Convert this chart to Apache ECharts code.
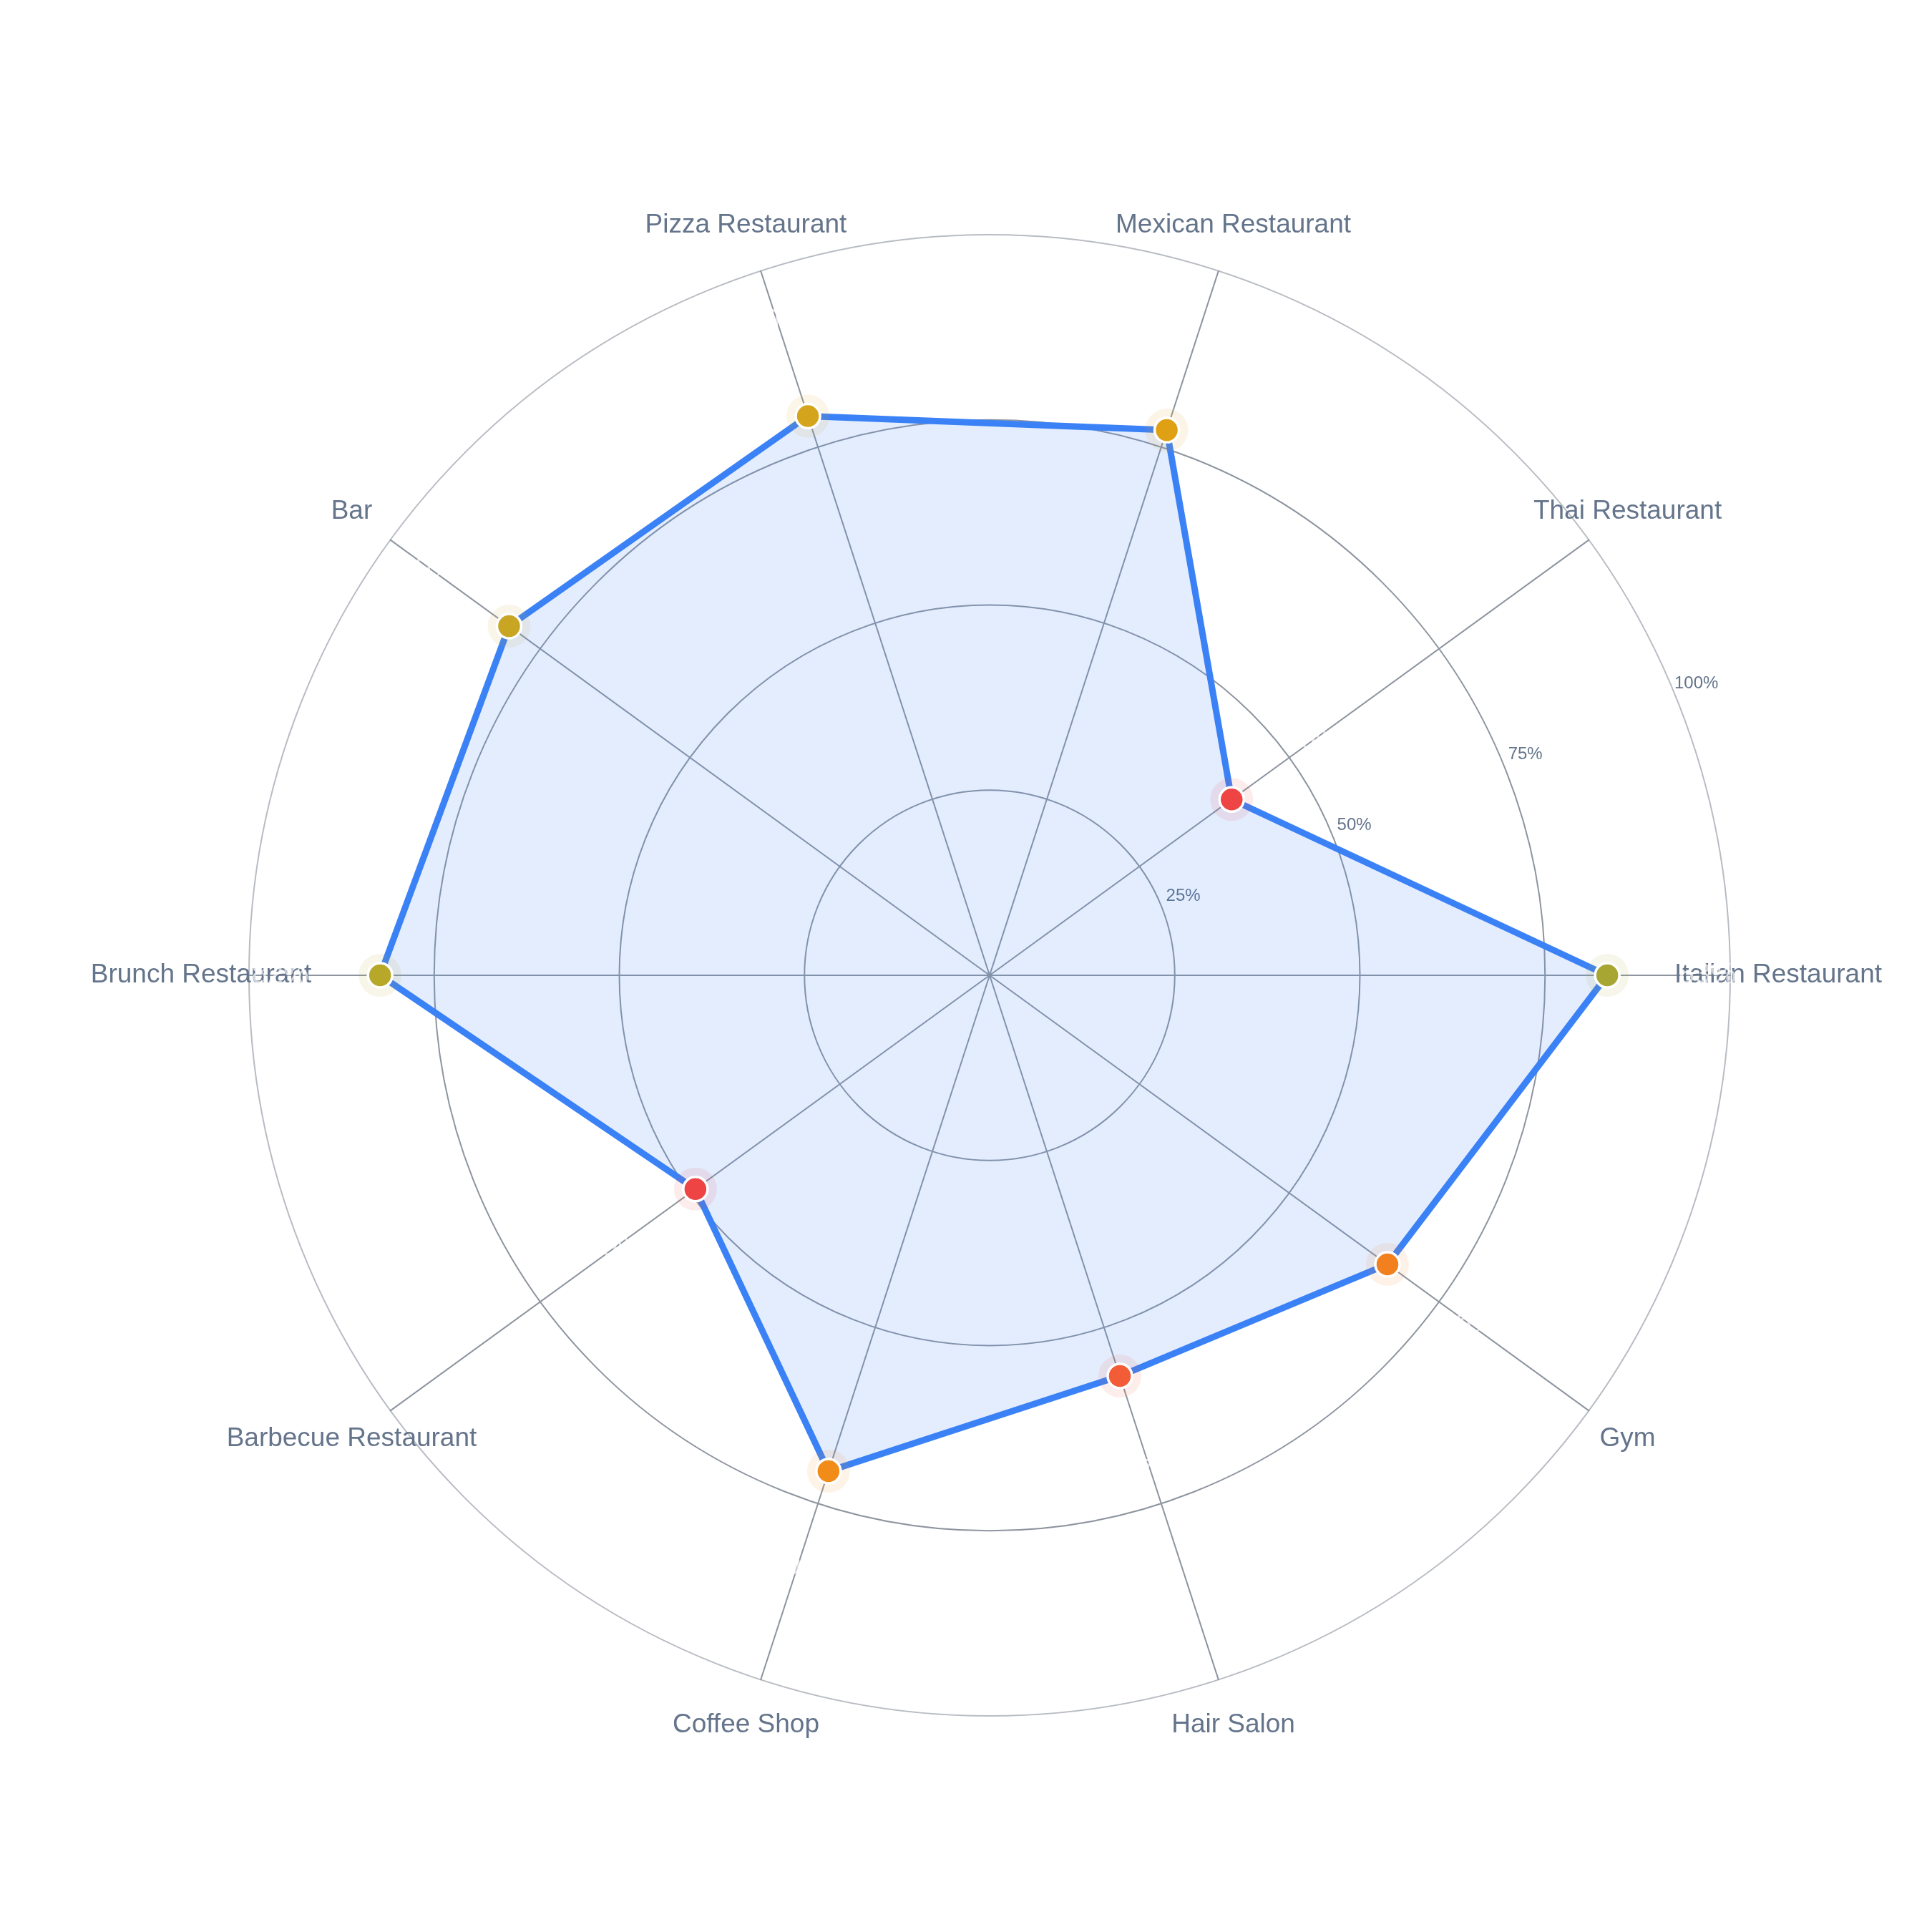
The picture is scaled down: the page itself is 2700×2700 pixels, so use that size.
<!DOCTYPE html>
<html>
<head>
<meta charset="utf-8">
<script src="https://cdn.jsdelivr.net/npm/echarts@6/dist/echarts.min.js"></script>
<style>
    html, body { margin: 0; padding: 0; background: #ffffff; }
    #grafico { width: 2700px; height: 2700px; }
</style>
</head>
<body>
<div id="grafico"></div>
<script>
// Datos
const categorias = ['Italian Restaurant', 'Thai Restaurant', 'Mexican Restaurant', 'Pizza Restaurant', 'Bar',
    'Brunch Restaurant', 'Barbecue Restaurant', 'Coffee Shop', 'Hair Salon', 'Gym'];
const valores = [83.4, 40.4, 77.4, 79.4, 80.2, 82.3, 49.1, 70.4, 56.9, 66.4];
const ticksRadio = [0, 25, 50, 75, 100];

// Colores de cada punto
const coloresPunto = ['#a8a632', '#ef4444', '#e0a014', '#d4a41c', '#c8a624',
    '#b8a82a', '#ef4444', '#f28c18', '#f25c36', '#f2801e'];

const fuente = '"Liberation Sans", Arial, sans-serif';
const centro = [1383, 1363];
const radio = 1035;
const separacionEtiqueta = 13.5; // en % del radio, etiquetas blancas de valor

var myChart = echarts.init(document.getElementById('grafico'));

var option = {
    backgroundColor: '#ffffff',
    animation: false,
    radar: {
        center: centro,
        radius: radio,
        startAngle: 0,
        shape: 'circle',
        splitNumber: ticksRadio.length - 1,
        indicator: categorias.map(c => ({ name: c, min: ticksRadio[0], max: ticksRadio[ticksRadio.length - 1] })),
        nameGap: 67,
        axisName: {
            color: '#64748b',
            fontSize: 37,
            fontFamily: fuente,
            align: 'center',
            verticalAlign: 'middle'
        },
        axisLine: { lineStyle: { color: '#8e959f', width: 2 } },
        axisTick: { show: false },
        axisLabel: { show: false },
        splitLine: {
            lineStyle: { color: ['#8e959f', '#8e959f', '#8e959f', '#8e959f', '#b8bcc3'], width: 2 }
        },
        splitArea: { show: false }
    },
    polar: [
        { center: centro, radius: radio },
        { center: centro, radius: radio }
    ],
    angleAxis: [
        { polarIndex: 0, type: 'category', data: categorias, boundaryGap: false, startAngle: 0, clockwise: false, show: false },
        { polarIndex: 1, type: 'value', min: 0, max: 360, startAngle: 22.5, clockwise: false, show: false }
    ],
    radiusAxis: [
        { polarIndex: 0, min: ticksRadio[0], max: ticksRadio[ticksRadio.length - 1], show: false },
        {
            polarIndex: 1,
            min: ticksRadio[0],
            max: ticksRadio[ticksRadio.length - 1],
            interval: ticksRadio[1] - ticksRadio[0],
            axisLine: { show: false },
            axisTick: { show: false },
            splitLine: { show: false },
            axisLabel: {
                showMinLabel: false,
                formatter: '{value}%',
                color: '#64748b',
                fontSize: 24,
                fontFamily: fuente,
                margin: 0,
                align: 'center',
                verticalAlign: 'bottom',
                padding: [0, 0, 0, 63]
            }
        }
    ],
    series: [
        {
            type: 'radar',
            symbol: 'none',
            silent: true,
            lineStyle: { color: '#3b82f6', width: 9 },
            areaStyle: { color: 'rgba(59,130,246,0.14)', opacity: 1 },
            data: [{ value: valores }]
        },
        {
            // halo alrededor de cada punto
            type: 'scatter',
            coordinateSystem: 'polar',
            polarIndex: 0,
            symbolSize: 60,
            silent: true,
            data: valores.map((v, i) => ({ value: [v, i], itemStyle: { color: coloresPunto[i], opacity: 0.1 } }))
        },
        {
            type: 'scatter',
            coordinateSystem: 'polar',
            polarIndex: 0,
            symbolSize: 34,
            silent: true,
            itemStyle: { borderColor: '#ffffff', borderWidth: 3.5, opacity: 1 },
            data: valores.map((v, i) => ({ value: [v, i], itemStyle: { color: coloresPunto[i] } }))
        },
        {
            // etiquetas de valor (blancas)
            type: 'scatter',
            coordinateSystem: 'polar',
            polarIndex: 0,
            symbolSize: 1,
            silent: true,
            itemStyle: { color: 'rgba(0,0,0,0)' },
            label: {
                show: true,
                position: 'inside',
                formatter: p => Math.round(valores[p.dataIndex]) + '%',
                color: 'rgba(255,255,255,0.85)',
                fontSize: 40,
                fontFamily: fuente
            },
            data: valores.map((v, i) => [v + separacionEtiqueta, i])
        }
    ]
};

myChart.setOption(option);
</script>
</body>
</html>
